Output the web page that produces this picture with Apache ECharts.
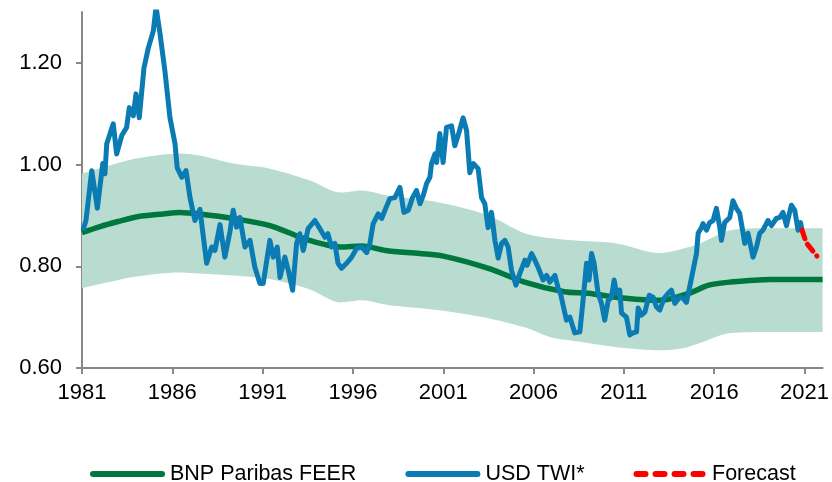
<!DOCTYPE html>
<html>
<head>
<meta charset="utf-8">
<script src="https://cdn.jsdelivr.net/npm/echarts@6/dist/echarts.min.js"></script>
<style>
  html, body { margin: 0; padding: 0; background: #fff; }
  #chart { width: 832px; height: 482px; }
</style>
</head>
<body>
<div id="chart"></div>
<script>
// x values are decimal years
const xTicks = [1981, 1986, 1991, 1996, 2001, 2006, 2011, 2016, 2021];
const yTicks = [0.6, 0.8, 1.0, 1.2];

// FEER fair value band (upper / lower edges)
const bandYears = [1981, 1982.5, 1984, 1986.4, 1987.5, 1989.4, 1991.4, 1993.6, 1995.3, 1996.5, 1997.9,
  2000.7, 2003.5, 2005.5, 2007.0, 2008.5, 2010.6, 2013.0, 2014.3, 2015.2, 2016.9, 2019.0, 2022.0];
const bandUpper = [0.982, 0.998, 1.012, 1.022, 1.018, 1.002, 0.992, 0.969, 0.945, 0.949, 0.939,
  0.926, 0.900, 0.865, 0.855, 0.850, 0.845, 0.826, 0.835, 0.845, 0.871, 0.875, 0.875];
const bandLower = [0.757, 0.769, 0.780, 0.788, 0.786, 0.782, 0.775, 0.755, 0.729, 0.733, 0.724,
  0.714, 0.698, 0.680, 0.660, 0.652, 0.641, 0.635, 0.639, 0.649, 0.669, 0.671, 0.671];

// BNP Paribas FEER
const feer = [
  [1981.0, 0.866], [1982.0, 0.878], [1983.0, 0.888], [1984.0, 0.897], [1985.5, 0.903], [1986.4, 0.906],
  [1987.5, 0.903], [1989.4, 0.894], [1991.4, 0.880], [1993.1, 0.857], [1994.2, 0.845], [1995.3, 0.838],
  [1996.5, 0.840], [1997.8, 0.831], [1999.7, 0.825], [2001.0, 0.820], [2003.5, 0.796], [2005.5, 0.769],
  [2007.7, 0.750], [2009.0, 0.747], [2011.1, 0.737], [2013.0, 0.733], [2014.6, 0.747], [2015.7, 0.763],
  [2016.9, 0.769], [2019.1, 0.774], [2022.0, 0.774]
];

// USD TWI*
const twi = [
  [1981.05, 0.871], [1981.22, 0.890], [1981.54, 0.988], [1981.85, 0.914], [1982.15, 1.002], [1982.27, 0.982],
  [1982.37, 1.041], [1982.73, 1.080], [1982.92, 1.021], [1983.20, 1.057], [1983.47, 1.073], [1983.62, 1.112],
  [1983.84, 1.096], [1983.99, 1.139], [1984.17, 1.092], [1984.43, 1.190], [1984.67, 1.229], [1984.95, 1.263],
  [1985.10, 1.310], [1985.32, 1.257], [1985.59, 1.184], [1985.87, 1.092], [1986.15, 1.041], [1986.27, 0.994],
  [1986.52, 0.975], [1986.76, 0.988], [1986.98, 0.935], [1987.25, 0.890], [1987.53, 0.912], [1987.90, 0.806],
  [1988.18, 0.838], [1988.36, 0.831], [1988.64, 0.882], [1988.91, 0.818], [1989.19, 0.868], [1989.37, 0.910],
  [1989.56, 0.877], [1989.74, 0.896], [1990.02, 0.838], [1990.30, 0.851], [1990.57, 0.798], [1990.85, 0.766],
  [1991.03, 0.766], [1991.40, 0.851], [1991.59, 0.818], [1991.81, 0.838], [1991.96, 0.778], [1992.23, 0.818],
  [1992.42, 0.792], [1992.66, 0.753], [1992.88, 0.845], [1993.06, 0.864], [1993.25, 0.831], [1993.52, 0.874],
  [1993.89, 0.890], [1994.17, 0.874], [1994.45, 0.857], [1994.61, 0.864], [1994.82, 0.838], [1995.00, 0.845],
  [1995.17, 0.806], [1995.37, 0.796], [1995.65, 0.806], [1995.93, 0.818], [1996.20, 0.835], [1996.48, 0.838],
  [1996.76, 0.827], [1996.94, 0.845], [1997.12, 0.884], [1997.40, 0.903], [1997.59, 0.894], [1997.77, 0.910],
  [1998.04, 0.933], [1998.32, 0.935], [1998.60, 0.955], [1998.82, 0.906], [1999.06, 0.910], [1999.30, 0.935],
  [1999.52, 0.949], [1999.71, 0.923], [1999.89, 0.939], [2000.08, 0.963], [2000.26, 0.975], [2000.35, 1.002],
  [2000.54, 1.021], [2000.63, 1.004], [2000.81, 1.061], [2000.99, 1.004], [2001.18, 1.073], [2001.46, 1.076],
  [2001.64, 1.037], [2001.82, 1.057], [2002.10, 1.092], [2002.29, 1.067], [2002.47, 0.984], [2002.66, 1.002],
  [2002.93, 0.992], [2003.12, 0.935], [2003.30, 0.923], [2003.48, 0.876], [2003.67, 0.906], [2003.86, 0.851],
  [2004.04, 0.816], [2004.23, 0.845], [2004.41, 0.851], [2004.59, 0.838], [2004.78, 0.792], [2005.02, 0.763],
  [2005.24, 0.786], [2005.52, 0.812], [2005.64, 0.802], [2005.89, 0.825], [2006.07, 0.812], [2006.25, 0.798],
  [2006.53, 0.773], [2006.72, 0.782], [2006.90, 0.769], [2007.18, 0.782], [2007.36, 0.757], [2007.50, 0.745],
  [2007.82, 0.694], [2008.01, 0.700], [2008.28, 0.669], [2008.56, 0.671], [2008.74, 0.733], [2008.93, 0.806],
  [2009.07, 0.773], [2009.21, 0.825], [2009.35, 0.806], [2009.57, 0.747], [2009.76, 0.727], [2009.94, 0.694],
  [2010.13, 0.733], [2010.31, 0.739], [2010.46, 0.773], [2010.59, 0.747], [2010.77, 0.753], [2010.87, 0.708],
  [2011.14, 0.700], [2011.33, 0.665], [2011.51, 0.669], [2011.70, 0.671], [2011.79, 0.718], [2011.97, 0.704],
  [2012.16, 0.710], [2012.40, 0.743], [2012.62, 0.739], [2012.80, 0.720], [2012.99, 0.714], [2013.22, 0.737],
  [2013.45, 0.747], [2013.63, 0.753], [2013.82, 0.727], [2014.09, 0.739], [2014.28, 0.737], [2014.46, 0.729],
  [2014.64, 0.759], [2014.83, 0.792], [2015.02, 0.825], [2015.11, 0.865], [2015.29, 0.876], [2015.38, 0.884],
  [2015.57, 0.871], [2015.75, 0.886], [2015.94, 0.890], [2016.12, 0.914], [2016.31, 0.876], [2016.40, 0.851],
  [2016.58, 0.886], [2016.86, 0.896], [2017.04, 0.929], [2017.23, 0.914], [2017.41, 0.904], [2017.60, 0.865],
  [2017.69, 0.845], [2017.87, 0.865], [2017.97, 0.867], [2018.15, 0.818], [2018.34, 0.838], [2018.52, 0.865],
  [2018.70, 0.871], [2018.98, 0.890], [2019.17, 0.880], [2019.44, 0.894], [2019.63, 0.896], [2019.81, 0.906],
  [2020.00, 0.880], [2020.27, 0.920], [2020.46, 0.910], [2020.64, 0.871], [2020.78, 0.886], [2020.86, 0.871]
];

// Forecast
const forecast = [[2020.86, 0.871], [2021.10, 0.846], [2021.69, 0.820]];

const FONT = 'Liberation Sans, Arial, sans-serif';
const GREEN = '#00773f';
const BLUE = '#0a7bb3';
const BAND = '#b8dcd0';

// legend icons: capsule line and dashed capsule line
const solidIcon = 'path://M3,0H72A3,3 0 0 1 72,6H3A3,3 0 0 1 3,0Z';
const dashIcon = 'path://M3,0H12A3,3 0 0 1 12,6H3A3,3 0 0 1 3,0Z' +
  'M22,0H31A3,3 0 0 1 31,6H22A3,3 0 0 1 22,0Z' +
  'M41,0H50A3,3 0 0 1 50,6H41A3,3 0 0 1 41,0Z' +
  'M60,0H69A3,3 0 0 1 69,6H60A3,3 0 0 1 60,0Z';

const chart = echarts.init(document.getElementById('chart'));

const axisGray = { show: true, lineStyle: { color: '#888888', width: 2 } };

chart.setOption({
  animation: false,
  grid: { left: 82, right: 8, top: 12, bottom: 114 },
  legend: {
    left: 85,
    top: 458,
    itemWidth: 75,
    itemHeight: 6,
    itemGap: 49,
    textStyle: { fontFamily: FONT, fontSize: 21.5, color: '#000' },
    data: [
      { name: 'BNP Paribas FEER', icon: solidIcon },
      { name: 'USD TWI*', icon: solidIcon },
      { name: 'Forecast', icon: dashIcon }
    ]
  },
  xAxis: {
    type: 'value',
    min: 1981,
    max: 2022,
    splitLine: { show: false },
    axisLine: axisGray,
    axisTick: { show: true, length: 6, lineStyle: { color: '#888888', width: 2 }, customValues: xTicks },
    axisLabel: {
      customValues: xTicks,
      margin: 14,
      fontFamily: FONT,
      fontSize: 22,
      color: '#000',
      formatter: v => String(Math.round(v))
    }
  },
  yAxis: {
    type: 'value',
    min: 0.6,
    max: 1.3,
    splitLine: { show: false },
    axisLine: axisGray,
    axisTick: { show: true, length: 6, lineStyle: { color: '#888888', width: 2 }, customValues: yTicks },
    axisLabel: {
      customValues: yTicks,
      margin: 20,
      fontFamily: FONT,
      fontSize: 22,
      color: '#000',
      formatter: v => v.toFixed(2)
    }
  },
  series: [
    // band: value first in each row so the stack is done on y, not on the year
    {
      name: 'bandBase',
      type: 'line',
      stack: 'band',
      smooth: 0.3,
      symbol: 'none',
      encode: { x: 1, y: 0 },
      lineStyle: { width: 0, opacity: 0 },
      data: bandYears.map((yr, i) => [bandLower[i], yr]),
      silent: true,
      z: 1
    },
    {
      name: 'band',
      type: 'line',
      stack: 'band',
      smooth: 0.3,
      symbol: 'none',
      encode: { x: 1, y: 0 },
      lineStyle: { width: 0, opacity: 0 },
      areaStyle: { color: BAND, opacity: 1 },
      data: bandYears.map((yr, i) => [bandUpper[i] - bandLower[i], yr]),
      silent: true,
      z: 1
    },
    {
      name: 'BNP Paribas FEER',
      type: 'line',
      smooth: 0.3,
      symbol: 'none',
      color: GREEN,
      lineStyle: { color: GREEN, width: 5.5 },
      data: feer,
      z: 2
    },
    {
      name: 'USD TWI*',
      type: 'line',
      symbol: 'none',
      color: BLUE,
      lineStyle: { color: BLUE, width: 5, join: 'round' },
      data: twi,
      z: 3
    },
    {
      name: 'Forecast',
      type: 'line',
      symbol: 'none',
      color: '#ff0000',
      lineStyle: { color: '#ff0000', width: 5, type: [9, 6], cap: 'round' },
      data: forecast,
      z: 3
    }
  ]
});
</script>
</body>
</html>
